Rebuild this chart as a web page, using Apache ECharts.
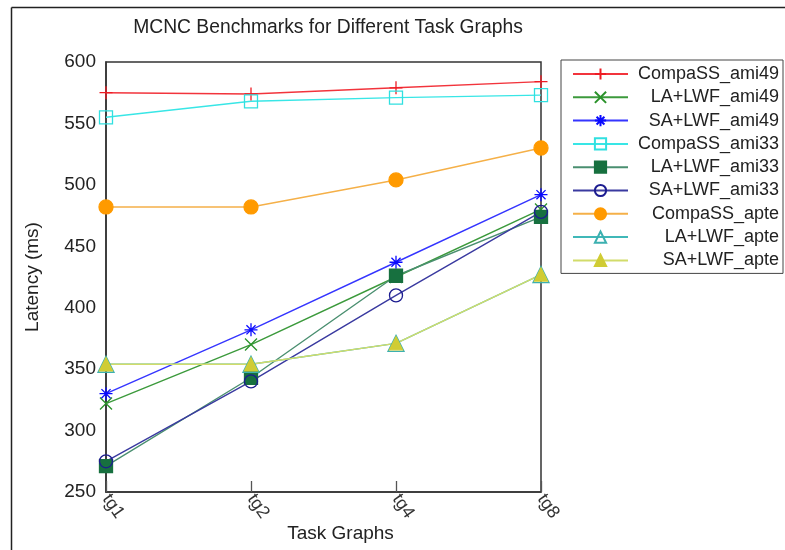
<!DOCTYPE html>
<html>
<head>
<meta charset="utf-8">
<script src="https://cdn.jsdelivr.net/npm/echarts@6/dist/echarts.min.js"></script>
<style>
  html, body { margin: 0; padding: 0; background: #fff; }
  #chart { width: 785px; height: 550px; }
</style>
</head>
<body>
<div id="chart"></div>
<script>
// data
var categories = ['tg1', 'tg2', 'tg4', 'tg8'];
var yTicks = [250, 300, 350, 400, 450, 500, 550, 600];

var compaSSAmi49 = [575, 574, 579, 584];
var laLwfAmi49 = [322, 370, 425, 480];
var saLwfAmi49 = [330, 382, 437, 492];
var compaSSAmi33 = [555, 568, 571, 573];
var laLwfAmi33 = [271, 343, 426, 474];
var saLwfAmi33 = [275, 340, 410, 478];
var compaSSApte = [482, 482, 504, 530];
var laLwfApte = [354, 354, 371, 427];
var saLwfApte = [354, 354, 371, 427];

var PLUS = 'path://M5 0L5 10M0 5L10 5';
var CROSS = 'path://M0 0L10 10M10 0L0 10';
var STAR = 'path://M5 0L5 10M0 5L10 5M1.5 1.5L8.5 8.5M8.5 1.5L1.5 8.5';
var FONT = 'Liberation Sans';

function mk(name, data, symbol, size, line, fill, stroke) {
  return {
    name: name,
    type: 'line',
    data: data,
    symbol: symbol,
    symbolSize: size,
    showAllSymbol: true,
    lineStyle: { color: line, width: 1.4 },
    itemStyle: { color: fill, borderColor: stroke, borderWidth: 1.3 },
    emphasis: { disabled: true },
    animation: false
  };
}

var myChart = echarts.init(document.getElementById('chart'));
var option = {
  backgroundColor: '#fff',
  title: {
    text: 'MCNC Benchmarks for Different Task Graphs',
    left: 323,
    textAlign: 'center',
    top: 13,
    textStyle: { fontFamily: FONT, fontSize: 19.3, fontWeight: 'normal', color: '#222' }
  },
  legend: {
    orient: 'vertical',
    left: 561,
    top: 60,
    width: 220,
    padding: [5, 4, 4, 11],
    itemWidth: 55,
    itemHeight: 14,
    itemGap: 5.3,
    backgroundColor: '#fff',
    borderColor: '#444',
    borderWidth: 1,
    borderRadius: 0,
    selectedMode: false,
    formatter: function (n) { return '{a|' + n + '}'; },
    textStyle: {
      fontFamily: FONT,
      fontSize: 18,
      color: '#222',
      rich: { a: { width: 146, align: 'right', fontFamily: FONT, fontSize: 18, color: '#222' } }
    }
  },
  grid: {
    left: 106, right: 244, top: 62, bottom: 58,
    outerBoundsMode: 'none',
    show: true, borderColor: '#333', borderWidth: 1.5, backgroundColor: '#fff'
  },
  xAxis: {
    type: 'category',
    data: categories,
    boundaryGap: false,
    name: 'Task Graphs',
    nameLocation: 'middle',
    nameGap: 32,
    nameMoveOverlap: false,
    nameTextStyle: { fontFamily: FONT, fontSize: 19, color: '#222', padding: [0, 0, 0, 34] },
    axisLine: { lineStyle: { color: '#333', width: 1.5 } },
    axisTick: { inside: true, length: 11, lineStyle: { color: '#555', width: 1.3 } },
    axisLabel: { rotate: -55, margin: 4, fontFamily: FONT, fontSize: 18, color: '#333' },
    splitLine: { show: false }
  },
  yAxis: {
    type: 'value',
    min: yTicks[0],
    max: yTicks[yTicks.length - 1],
    interval: 50,
    name: 'Latency (ms)',
    nameLocation: 'middle',
    nameGap: 64,
    nameMoveOverlap: false,
    nameTextStyle: { fontFamily: FONT, fontSize: 19, color: '#222' },
    axisLine: { show: true, lineStyle: { color: '#333', width: 1.5 } },
    axisTick: { show: false },
    axisLabel: { margin: 10, fontFamily: FONT, fontSize: 19, color: '#222' },
    splitLine: { show: false }
  },
  graphic: [
    { type: 'line', shape: { x1: 11.5, y1: 7.5, x2: 785, y2: 7.5 }, style: { stroke: '#222', lineWidth: 1.5 }, silent: true },
    { type: 'line', shape: { x1: 11.5, y1: 7.5, x2: 11.5, y2: 550 }, style: { stroke: '#222', lineWidth: 1.5 }, silent: true }
  ],
  series: [
    mk('CompaSS_ami49', compaSSAmi49, PLUS, 13, '#f2343c', '#ee1c24', '#ee1c24'),
    mk('LA+LWF_ami49', laLwfAmi49, CROSS, 12, '#3c9a3c', '#2a922a', '#2a922a'),
    mk('SA+LWF_ami49', saLwfAmi49, STAR, 13, '#3535ff', '#0a0aff', '#0a0aff'),
    mk('CompaSS_ami33', compaSSAmi33, 'rect', 13, '#38e6e6', 'rgba(0,0,0,0)', '#30e0e0'),
    mk('LA+LWF_ami33', laLwfAmi33, 'rect', 13, '#4a8f70', '#17703f', '#17703f'),
    mk('SA+LWF_ami33', saLwfAmi33, 'circle', 13, '#3a3aa0', 'rgba(0,0,0,0)', '#1c1c90'),
    mk('CompaSS_apte', compaSSApte, 'circle', 14, '#f5b048', '#ff9a00', '#ff9a00'),
    mk('LA+LWF_apte', laLwfApte, 'triangle', 16, '#40b8b8', 'rgba(0,0,0,0)', '#3cb0b0'),
    mk('SA+LWF_apte', saLwfApte, 'triangle', 13, '#d2dc6a', '#d0cc34', '#d0cc34')
  ]
};
myChart.setOption(option);
window.onresize = myChart.resize;
</script>
</body>
</html>
